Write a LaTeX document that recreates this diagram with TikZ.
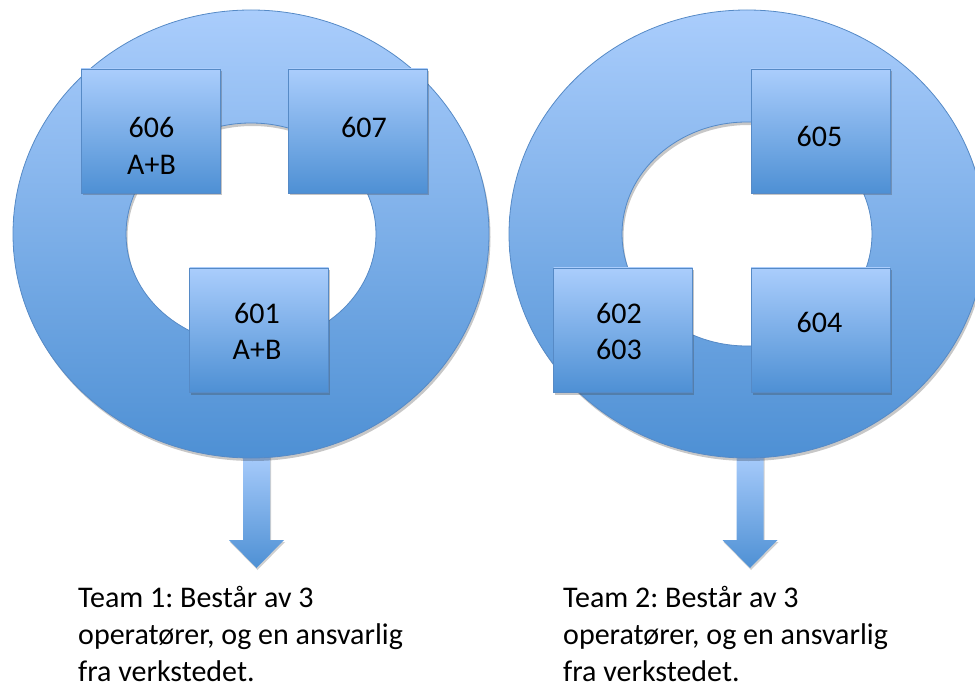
\documentclass[tikz,border=0pt]{standalone}
\usepackage{fontspec}
\setmainfont{Carlito}
\usetikzlibrary{shadows,calc}
\frenchspacing
\definecolor{blueTop}{RGB}{170,205,252}
\definecolor{blueBot}{RGB}{78,144,212}
\definecolor{blueEdge}{RGB}{86,138,198}
\tikzset{
  blueshade/.style={top color=blueTop, bottom color=blueBot, draw=blueEdge, line width=0.8pt},
  room/.style={blueshade, minimum width=139pt, minimum height=124pt, inner sep=0pt,
    drop shadow={shadow xshift=1.5pt, shadow yshift=-2.5pt, opacity=0.3, fill=black!75}},
  % the base anchor of a multi-line node sits on its last line
  roomtext/.style={anchor=base, align=center, inner sep=0pt,
    font=\fontsize{30}{36.6}\selectfont},
  teamtext/.style={anchor=base west, align=left, inner sep=0pt,
    font=\fontsize{30}{36.6}\selectfont},
  blockarrow/.style={top color=blueTop, bottom color=blueBot, draw=none,
    drop shadow={shadow xshift=1pt, shadow yshift=-2pt, opacity=0.25, fill=black!75}},
  ringshadow/.style={fill=black, opacity=0.22, even odd rule},
}
\begin{document}
\begin{tikzpicture}[x=1pt, y=-1pt]
\useasboundingbox (0,0) rectangle (975,687);

% arrows from each ring down to its team description (behind the rings)
\coordinate (a1) at (256.5,452);
\coordinate (a2) at (750,452);
\foreach \a in {a1,a2}{
  \path[blockarrow] (\a) ++(-13.5,0) -- ++(0,88) -- ++(-14,0) -- ++(27.5,28)
    -- ++(27.5,-28) -- ++(-14,0) -- ++(0,-88) -- cycle;
}

% team rings, each with a soft shadow
\foreach \cx/\ry in {251/111,747/112}{
  \fill[ringshadow] (\cx+1.5,237) ellipse [x radius=238, y radius=224]
    (\cx+1.5,237) ellipse [x radius=125, y radius=\ry];
  \path[blueshade, even odd rule]
    (\cx,234) ellipse [x radius=238, y radius=224]
    (\cx,234) ellipse [x radius=125, y radius=\ry];
}

% rooms of team 1
\node[room] (r606) at (150.5,131) {};
\node[room] (r607) at (358,131) {};
\node[room] (r601) at (259,330) {};
\node[roomtext] (l606) at ($(r606.north)+(1,106)$) {606\\A+B};
\node[roomtext] (l607) at ($(r607.north)+(6,69)$) {607};
\node[roomtext] (l601) at ($(r601.north)+(-2,92)$) {601\\A+B};

% rooms of team 2
\node[room] (r605) at (820.5,131) {};
\node[room] (r602) at (623,330) {};
\node[room] (r604) at (820.5,330) {};
\node[roomtext] (l605) at ($(r605.north)+(-1,78)$) {605};
\node[roomtext] (l602) at ($(r602.north)+(-4,92)$) {602\\603};
\node[roomtext] (l604) at ($(r604.north)+(-1,65)$) {604};

% team descriptions
\node[teamtext] (t1) at (78,681) {Team 1: Består av 3\\operatører, og en ansvarlig\\fra verkstedet.};
\node[teamtext] (t2) at (563,681) {Team 2: Består av 3\\operatører, og en ansvarlig\\fra verkstedet.};
\end{tikzpicture}
\end{document}
